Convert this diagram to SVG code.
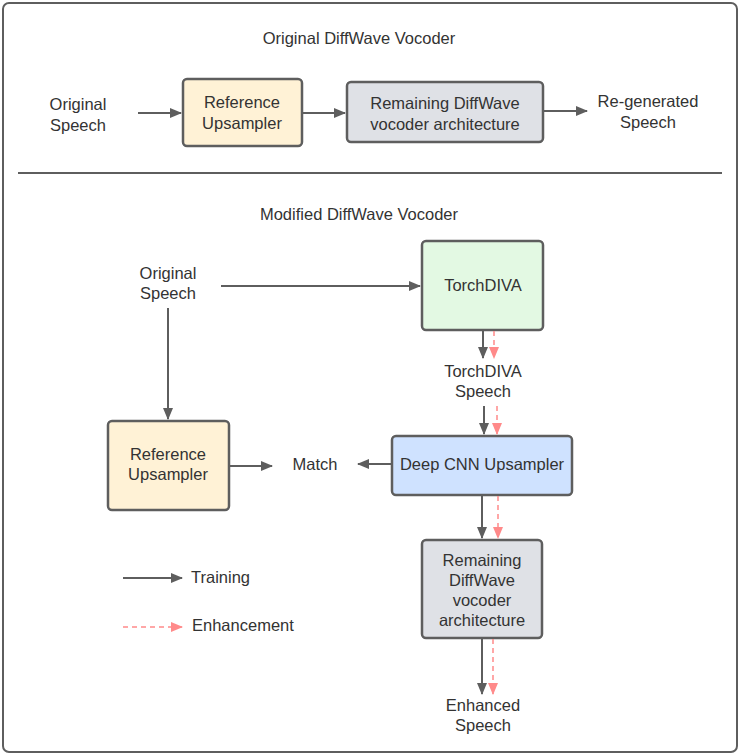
<svg xmlns="http://www.w3.org/2000/svg" width="741" height="756" viewBox="0 0 741 756">
<style>
text{font-family:"Liberation Sans",Arial,sans-serif;font-size:16.5px;fill:#333;text-anchor:middle}
.lg{text-anchor:start}
.box{stroke:#5e5e5e;stroke-width:2.5}
.tr{stroke:#5e5e5e;stroke-width:2;fill:none}
.en{stroke:#ff8a8a;stroke-width:1.5;fill:none;stroke-dasharray:5,4}
</style>
<defs>
<marker id="ag" markerWidth="12" markerHeight="10" refX="11" refY="5" orient="auto" markerUnits="userSpaceOnUse"><path d="M0,0 L12,5 L0,10 z" fill="#5e5e5e"/></marker>
<marker id="ap" markerWidth="12" markerHeight="10" refX="11" refY="5" orient="auto" markerUnits="userSpaceOnUse"><path d="M0,0 L12,5 L0,10 z" fill="#ff8a8a"/></marker>
</defs>
<rect x="3" y="3" width="734" height="749" rx="6" fill="#fff" stroke="#5e5e5e" stroke-width="2"/>
<line x1="18" y1="173" x2="722" y2="173" stroke="#5e5e5e" stroke-width="2"/>
<text x="359" y="44">Original DiffWave Vocoder</text>
<text x="359" y="220">Modified DiffWave Vocoder</text>

<g id="top-orig"><text x="78" y="110">Original</text><text x="78" y="131">Speech</text></g>
<g id="top-ref"><rect class="box" x="183" y="79" width="119" height="67" rx="4" fill="#fff2d6"/><text x="242" y="108">Reference</text><text x="242" y="129">Upsampler</text></g>
<g id="top-rem"><rect class="box" x="347" y="82" width="196" height="60" rx="4" fill="#dfe1e6"/><text x="445" y="109">Remaining DiffWave</text><text x="445" y="130">vocoder architecture</text></g>
<g id="top-regen"><text x="648" y="107">Re-generated</text><text x="648" y="128">Speech</text></g>

<g id="orig"><text x="168" y="279">Original</text><text x="168" y="299">Speech</text></g>
<g id="torchdiva"><rect class="box" x="422" y="241" width="121" height="89" rx="4" fill="#e3f9e3"/><text x="483" y="291">TorchDIVA</text></g>
<g id="tdspeech"><text x="483" y="377">TorchDIVA</text><text x="483" y="397">Speech</text></g>
<g id="ref"><rect class="box" x="108" y="421" width="121" height="89" rx="4" fill="#fff2d6"/><text x="168" y="460">Reference</text><text x="168" y="480">Upsampler</text></g>
<g id="match"><text x="315" y="470">Match</text></g>
<g id="cnn"><rect class="box" x="392" y="436" width="180" height="59" rx="4" fill="#cfe2ff"/><text x="482" y="470">Deep CNN Upsampler</text></g>
<g id="rem"><rect class="box" x="422" y="540" width="120" height="98" rx="4" fill="#dfe1e6"/><text x="482" y="566">Remaining</text><text x="482" y="586">DiffWave</text><text x="482" y="606">vocoder</text><text x="482" y="626">architecture</text></g>
<g id="enh"><text x="483" y="711">Enhanced</text><text x="483" y="731">Speech</text></g>
<g id="legend">
<line class="tr" x1="123" y1="578" x2="182" y2="578" marker-end="url(#ag)"/><text class="lg" x="191" y="583">Training</text>
<line class="en" x1="123" y1="627" x2="182" y2="627" marker-end="url(#ap)"/><text class="lg" x="192" y="631">Enhancement</text>
</g>

<g id="connectors">
<line class="tr" x1="138" y1="113" x2="181" y2="113" marker-end="url(#ag)"/>
<line class="tr" x1="302" y1="113" x2="345" y2="113" marker-end="url(#ag)"/>
<line class="tr" x1="543" y1="111" x2="587" y2="111" marker-end="url(#ag)"/>
<line class="tr" x1="221" y1="286" x2="420" y2="286" marker-end="url(#ag)"/>
<line class="tr" x1="168" y1="308" x2="168" y2="419" marker-end="url(#ag)"/>
<line class="tr" x1="229" y1="466" x2="272" y2="466" marker-end="url(#ag)"/>
<line class="tr" x1="392" y1="464" x2="358" y2="464" marker-end="url(#ag)"/>
<line class="tr" x1="483" y1="331" x2="483" y2="358" marker-end="url(#ag)"/>
<line class="en" x1="494" y1="331" x2="494" y2="358" marker-end="url(#ap)"/>
<line class="tr" x1="484" y1="406" x2="484" y2="434" marker-end="url(#ag)"/>
<line class="en" x1="497" y1="406" x2="497" y2="434" marker-end="url(#ap)"/>
<line class="tr" x1="482" y1="496" x2="482" y2="538" marker-end="url(#ag)"/>
<line class="en" x1="498" y1="496" x2="498" y2="538" marker-end="url(#ap)"/>
<line class="tr" x1="482" y1="639" x2="482" y2="694" marker-end="url(#ag)"/>
<line class="en" x1="493" y1="639" x2="493" y2="694" marker-end="url(#ap)"/>
</g>
</svg>
